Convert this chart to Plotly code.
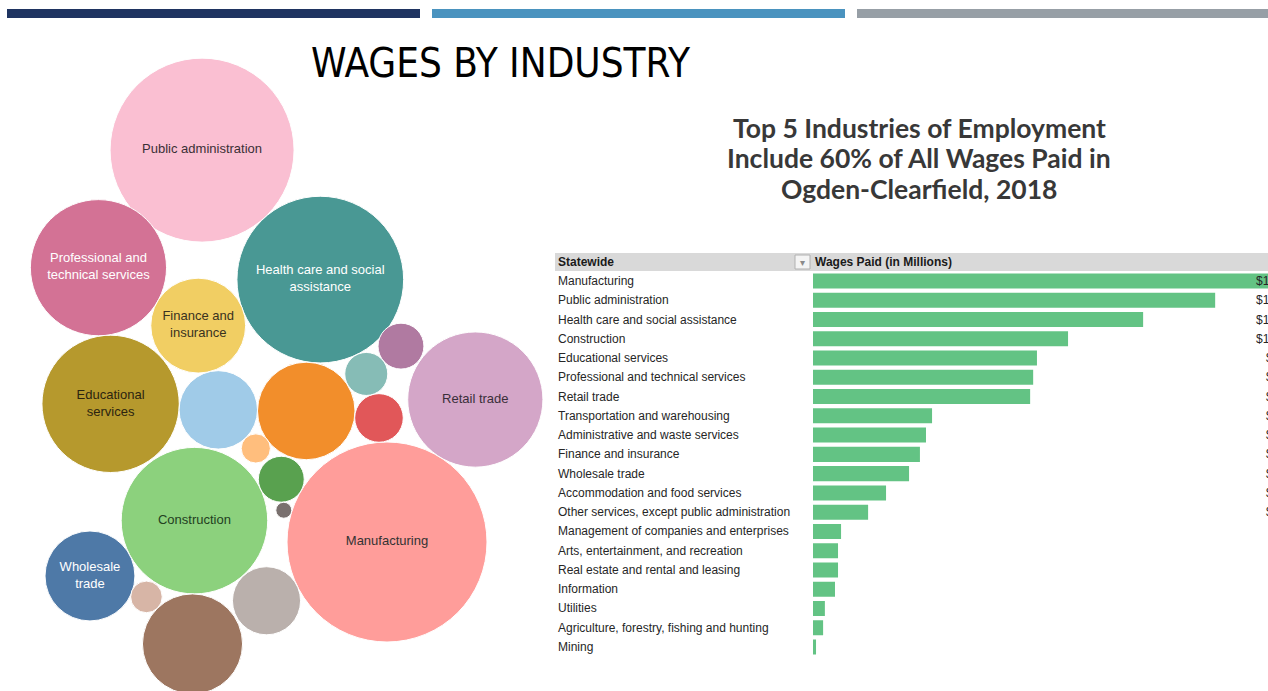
import math
import plotly.graph_objects as go

W, H = 1268, 691

# Wages paid by industry, Ogden-Clearfield 2018 (millions of dollars)
industries = [
    "Manufacturing",
    "Public administration",
    "Health care and social assistance",
    "Construction",
    "Educational services",
    "Professional and technical services",
    "Retail trade",
    "Transportation and warehousing",
    "Administrative and waste services",
    "Finance and insurance",
    "Wholesale trade",
    "Accommodation and food services",
    "Other services, except public administration",
    "Management of companies and enterprises",
    "Arts, entertainment, and recreation",
    "Real estate and rental and leasing",
    "Information",
    "Utilities",
    "Agriculture, forestry, fishing and hunting",
    "Mining",
]
wages = [1880, 1591, 1306, 1009, 886, 871, 859, 471, 447, 423,
         380, 289, 218, 111, 99, 99, 87, 47, 40, 12]

# Short labels shown inside the bubbles (blank = unlabeled bubble)
bubble_labels = [
    "Manufacturing",
    "Public administration",
    "Health care and social<br>assistance",
    "Construction",
    "Educational<br>services",
    "Professional and<br>technical services",
    "Retail trade",
    "", "",
    "Finance and<br>insurance",
    "Wholesale<br>trade",
    "", "", "", "", "", "", "", "", "",
]

bubble_colors = [
    "#FF9D9A", "#FABFD2", "#499894", "#8CD17D", "#B6992D",
    "#D37295", "#D4A6C8", "#9D7660", "#F28E2B", "#F1CE63",
    "#4E79A7", "#A0CBE8", "#BAB0AC", "#E15759", "#B07AA1",
    "#59A14F", "#86BCB6", "#D7B5A6", "#FFBE7D", "#79706E",
]
label_colors = [
    "#333333", "#3a2f36", "#ffffff", "#23401f", "#2b2410",
    "#ffffff", "#3a2f3a", "#ffffff", "#ffffff", "#3a3220",
    "#ffffff", "#333333", "#333333", "#ffffff", "#ffffff",
    "#ffffff", "#333333", "#333333", "#333333", "#ffffff",
]

# Bubble packing: each bubble sits tangent to a previously placed one,
# in the given direction (degrees, counter-clockwise from +x).
packing = [
    ("Retail trade", "Manufacturing", 58.2),
    ("Management of companies and enterprises", "Manufacturing", 93.7),
    ("Real estate and rental and leasing", "Manufacturing", 149.3),
    ("Mining", "Manufacturing", 162.9),
    ("Other services, except public administration", "Manufacturing", 206.0),
    ("Administrative and waste services", "Management of companies and enterprises", 174.5),
    ("Information", "Management of companies and enterprises", 106.1),
    ("Arts, entertainment, and recreation", "Information", 38.7),
    ("Health care and social assistance", "Administrative and waste services", 83.9),
    ("Public administration", "Health care and social assistance", 132.4),
    ("Accommodation and food services", "Administrative and waste services", 179.3),
    ("Agriculture, forestry, fishing and hunting", "Accommodation and food services", -45.8),
    ("Finance and insurance", "Accommodation and food services", 103.4),
    ("Educational services", "Accommodation and food services", 176.8),
    ("Professional and technical services", "Educational services", 95.1),
    ("Construction", "Real estate and rental and leasing", 205.5),
    ("Wholesale trade", "Construction", 207.9),
    ("Transportation and warehousing", "Construction", 269.1),
    ("Utilities", "Transportation and warehousing", 134.4),
]

# Marker area is proportional to wages; largest bubble is 200 px across.
# plotly (area mode) draws a marker of radius sqrt(size / 2 / sizeref).
MAX_DIAM = 200.0
SIZEREF = 2 * max(wages) / MAX_DIAM ** 2
radius = {n: math.sqrt(v / 2 / SIZEREF) for n, v in zip(industries, wages)}

centers = {"Manufacturing": (0.0, 0.0)}
for name, anchor, ang in packing:
    ax_, ay_ = centers[anchor]
    d = radius[name] + radius[anchor]
    centers[name] = (ax_ + d * math.cos(math.radians(ang)),
                     ay_ + d * math.sin(math.radians(ang)))

bx = [centers[n][0] for n in industries]
by = [centers[n][1] for n in industries]


def px(x):
    return x / W


def py(y):
    return 1 - y / H


fig = go.Figure()

# ---- packed bubbles (axis units are pixels, origin at the largest bubble)
bub_dom = [0, 0.45]
ox, oy = 387, 542
fig.add_trace(go.Scatter(
    x=bx, y=by, xaxis="x2", yaxis="y2",
    mode="markers+text",
    text=bubble_labels,
    textposition="middle center",
    textfont=dict(family="Liberation Sans, Arial, sans-serif", size=13,
                  color=label_colors),
    marker=dict(size=wages, sizemode="area", sizeref=SIZEREF,
                color=bubble_colors, opacity=1,
                line=dict(color="white", width=1)),
    cliponaxis=False, hoverinfo="text", hovertext=industries,
    showlegend=False,
))

# ---- wage bars
bar_x0 = 813
row_top, row_bottom = 281, 647
step = (row_bottom - row_top) / (len(industries) - 1)
fig.add_trace(go.Bar(
    x=wages, y=industries, orientation="h",
    marker=dict(color="#63C384", line=dict(width=0)),
    width=0.78, showlegend=False, hoverinfo="x+y",
))

annotations = []
for name, v in zip(industries, wages):
    annotations.append(dict(
        xref="paper", yref="y", x=px(556), y=name, xanchor="left",
        yanchor="middle", text=name, showarrow=False,
        font=dict(family="Liberation Sans, Arial, sans-serif", size=12,
                  color="#262626")))
    # value column continues past the right edge of the page
    annotations.append(dict(
        xref="paper", yref="y", x=px(1295), y=name, xanchor="right",
        yanchor="middle", text=f"${v:,}", showarrow=False,
        font=dict(family="Liberation Sans, Arial, sans-serif", size=12,
                  color="#262626")))

# table header
annotations += [
    dict(xref="paper", yref="paper", x=px(556), y=py(262), xanchor="left",
         yanchor="middle", text="<b>Statewide</b>", showarrow=False,
         font=dict(family="Liberation Sans, Arial, sans-serif", size=12,
                   color="#1a1a1a")),
    dict(xref="paper", yref="paper", x=px(813), y=py(262), xanchor="left",
         yanchor="middle", text="<b>Wages Paid (in Millions)</b>",
         showarrow=False,
         font=dict(family="Liberation Sans, Arial, sans-serif", size=12,
                   color="#1a1a1a")),
    dict(xref="paper", yref="paper", x=px(802.5), y=py(262), xanchor="center",
         yanchor="middle", text="▾", showarrow=False,
         font=dict(family="DejaVu Sans, sans-serif", size=10, color="#8a8a8a")),
]

# titles
annotations.append(dict(
    xref="paper", yref="paper", x=px(501), y=py(63), xanchor="center",
    yanchor="middle", text="WAGES BY INDUSTRY", showarrow=False,
    font=dict(family="DejaVu Sans Condensed, Liberation Sans, sans-serif",
              size=40, color="#000000")))
for txt, yy in [("Top 5 Industries of Employment", 128),
                ("Include 60% of All Wages Paid in", 158),
                ("Ogden-Clearfield, 2018", 189)]:
    annotations.append(dict(
        xref="paper", yref="paper", x=px(919), y=py(yy), xanchor="center",
        yanchor="middle", text=f"<b>{txt}</b>", showarrow=False,
        font=dict(family="Lato, sans-serif", size=26.5, color="#383838")))

shapes = [
    # header strip across the top
    dict(type="rect", xref="paper", yref="paper", x0=px(7), x1=px(420),
         y0=py(18), y1=py(9), fillcolor="#1F3461", line=dict(width=0)),
    dict(type="rect", xref="paper", yref="paper", x0=px(432), x1=px(845),
         y0=py(18), y1=py(9), fillcolor="#4A93BF", line=dict(width=0)),
    dict(type="rect", xref="paper", yref="paper", x0=px(857), x1=px(1268),
         y0=py(18), y1=py(9), fillcolor="#979FA6", line=dict(width=0)),
    # table header band
    dict(type="rect", xref="paper", yref="paper", x0=px(555), x1=1,
         y0=py(271), y1=py(253), fillcolor="#D9D9D9", line=dict(width=0),
         layer="below"),
    # filter dropdown box
    dict(type="rect", xref="paper", yref="paper", x0=px(795), x1=px(810),
         y0=py(269), y1=py(255), fillcolor="#F4F4F4",
         line=dict(color="#B0B0B0", width=1)),
]

ytop = py(row_top - step / 2)
ybot = py(row_bottom + step / 2)

fig.update_layout(
    width=W, height=H,
    margin=dict(l=0, r=0, t=0, b=0),
    paper_bgcolor="white", plot_bgcolor="rgba(0,0,0,0)",
    xaxis=dict(domain=[px(bar_x0), 1], range=[0, 1800], visible=False,
               fixedrange=True),
    yaxis=dict(domain=[ybot, ytop], type="category",
               categoryorder="array", categoryarray=industries,
               range=[len(industries) - 0.5, -0.5], visible=False,
               fixedrange=True),
    xaxis2=dict(domain=bub_dom, anchor="y2",
                range=[-ox, bub_dom[1] * W - ox], visible=False,
                fixedrange=True),
    yaxis2=dict(domain=[0, 1], anchor="x2",
                range=[-(H - oy), oy], visible=False, fixedrange=True),
    annotations=annotations,
    shapes=shapes,
)

fig.write_html("out.html")
